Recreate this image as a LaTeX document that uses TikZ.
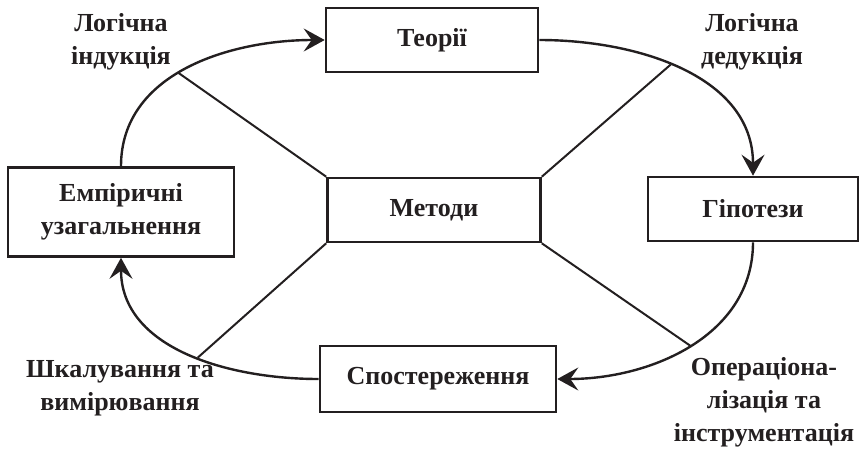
\documentclass[tikz,border=0pt]{standalone}
\usepackage{fontspec}
\setmainfont{Liberation Serif}
\usetikzlibrary{arrows.meta}
\definecolor{ink}{HTML}{231F20}
\tikzset{
    blok/.style={draw=ink, text=ink, line width=2.6pt, minimum width=212pt,
    	minimum height=64pt, inner sep=0pt, align=center,
    	font=\fontsize{26}{33}\selectfont\bfseries}
}
\tikzset{
    napys/.style={text=ink, align=center, font=\fontsize{26}{33}\selectfont\bfseries}
}
\tikzset{
	strilka/.style={draw=ink, line width=2.4pt,
		-{Stealth[length=21pt,width=23pt,inset=8pt]}},
	zvjazok/.style={draw=ink, line width=2pt}
}

\begin{document}
\begin{tikzpicture}[x=1pt,y=-1pt]
	\useasboundingbox (0,0) rectangle (862,450);
	\node (teor) [blok] at (432,40) {Теорії};
	\node (met) [blok, minimum width=213pt] at (434,210) {Методи};
	\node (emp) [blok, minimum width=226pt, minimum height=89pt] at (121,212) {Емпіричні\\узагальнення};
	\node (hip) [blok, minimum width=210pt] at (753,209) {Гіпотези};
	\node (spos) [blok, minimum width=236pt, minimum height=66pt] at (438,379) {Спостереження};
	
	\node (ind) [napys] at (121,42) {Логічна\\індукція};
	\node (ded) [napys] at (752,42) {Логічна\\дедукція};
	\node (shk) [napys] at (120,388) {Шкалування та\\вимірювання};
	\node (oper) [napys] at (764,402) {Операціона-\\лізація та\\інструментація};
	
	\draw[strilka] (emp.north) to[out=90,in=180] coordinate[pos=.46] (a1) (teor.west);
	\draw[strilka] (teor.east) to[out=0,in=90] coordinate[pos=.45] (a2) (hip.north);
	\draw[strilka] (hip.south) to[out=-90,in=0] coordinate[pos=.5] (a3) (spos.east);
	\draw[strilka] (spos.west) to[out=180,in=-90] coordinate[pos=.45] (a4) (emp.south);
	
	\draw[zvjazok] (met.north west) -- (a1);
	\draw[zvjazok] (met.north east) -- (a2);
	\draw[zvjazok] (met.south east) -- (a3);
	\draw[zvjazok] (met.south west) -- (a4);
\end{tikzpicture}
\end{document}
